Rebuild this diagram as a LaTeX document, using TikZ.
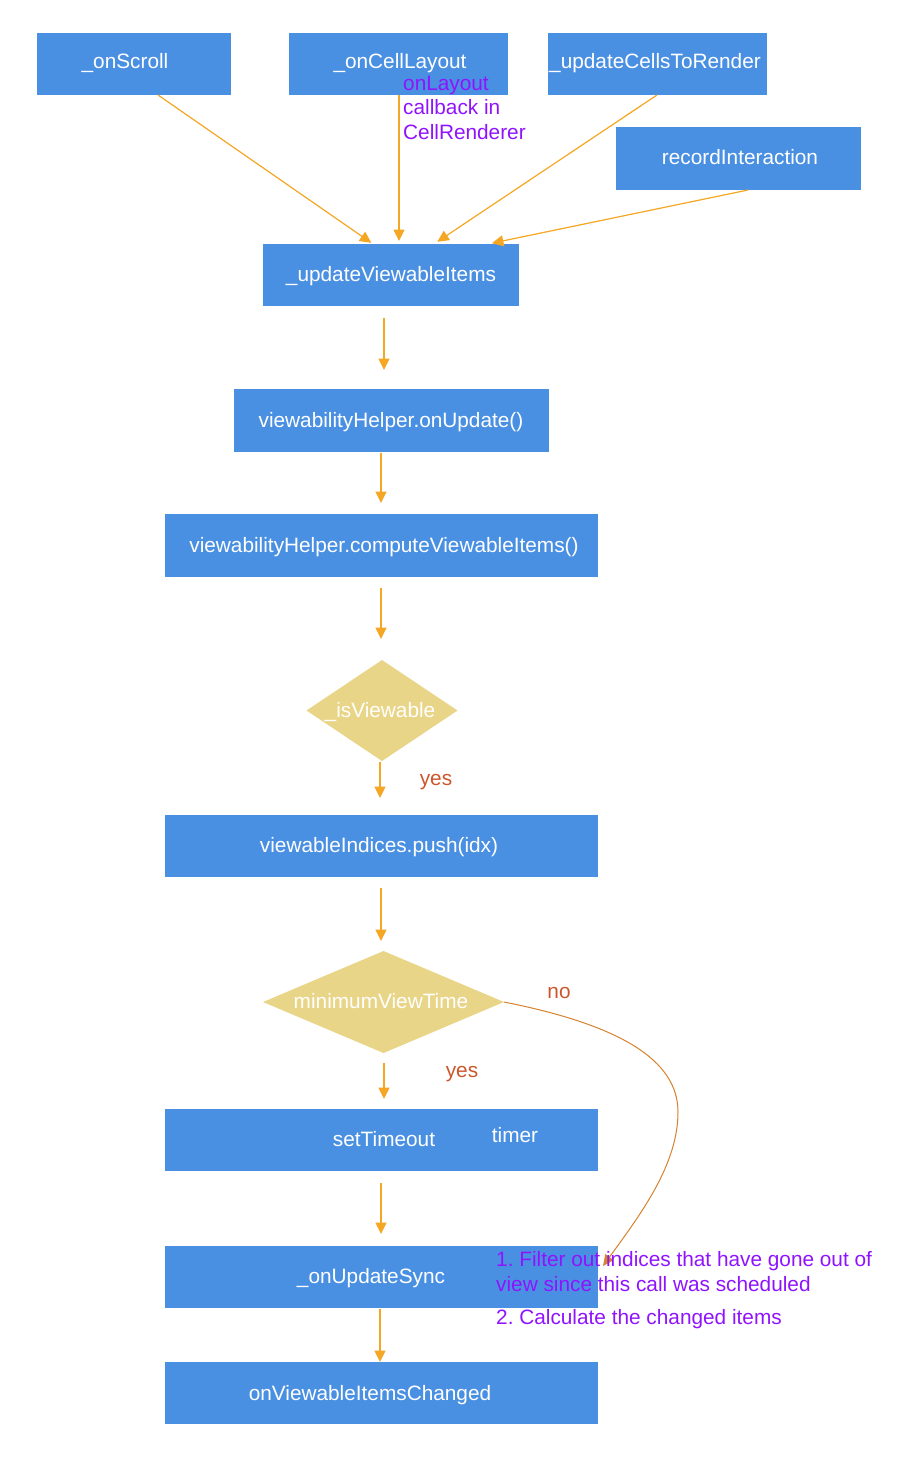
\documentclass[tikz,border=0pt]{standalone}
\usepackage{fontspec}
\setmainfont{Liberation Sans}
\frenchspacing
\usetikzlibrary{arrows.meta,shapes.geometric}
\definecolor{boxblue}{HTML}{4A90E2}
\definecolor{decision}{HTML}{E9D587}
\definecolor{flow}{HTML}{F5A623}
\definecolor{branch}{HTML}{D6822F}
\definecolor{answer}{HTML}{CD562C}
\definecolor{note}{HTML}{9013FE}
\begin{document}
\begin{tikzpicture}[x=1pt,y=-1pt,
  every node/.style={font=\fontsize{20.8}{25}\selectfont},
  box/.style={rectangle, fill=boxblue, draw=none, inner sep=0pt, outer sep=0pt},
  choice/.style={diamond, fill=decision, draw=none, inner sep=0pt, outer sep=0pt},
  boxtext/.style={text=white, anchor=base, inner sep=0pt},
  notetext/.style={text=note, anchor=base west, inner sep=0pt},
  answertext/.style={text=answer, anchor=base, inner sep=0pt},
  arr/.style={draw=flow, line width=1.2pt, -{Triangle[length=11.5pt,width=11pt]}},
  arrno/.style={draw=branch, line width=1pt, -{Triangle[length=11pt,width=10pt]}}]

\useasboundingbox (0,0) rectangle (910,1474);
\fill[white] (0,0) rectangle (910,1474);

% boxes
\node[box, minimum width=194pt, minimum height=62pt] (scroll)  at (134,64) {};
\node[box, minimum width=219pt, minimum height=62pt] (cell)    at (398.5,64) {};
\node[box, minimum width=219pt, minimum height=62pt] (render)  at (657.5,64) {};
\node[box, minimum width=245pt, minimum height=63pt] (record)  at (738.5,158.5) {};
\node[box, minimum width=256pt, minimum height=62pt] (uvi)     at (391,275) {};
\node[box, minimum width=315pt, minimum height=63pt] (onupd)   at (391.5,420.5) {};
\node[box, minimum width=433pt, minimum height=63pt] (comp)    at (381.5,545.5) {};
\node[choice, minimum width=151pt, minimum height=101pt] (isv) at (382,710.5) {};
\node[box, minimum width=433pt, minimum height=62pt] (push)    at (381.5,846) {};
\node[choice, minimum width=241pt, minimum height=102pt] (mvt) at (383.5,1002) {};
\node[box, minimum width=433pt, minimum height=62pt] (timeout) at (381.5,1140) {};
\node[box, minimum width=433pt, minimum height=62pt] (sync)    at (381.5,1277) {};
\node[box, minimum width=433pt, minimum height=62pt] (changed) at (381.5,1393) {};

% box labels
\node[boxtext] (tscroll)  at (125,69)   {\_onScroll};
\node[boxtext] (tcell)    at (400,69)   {\_onCellLayout};
\node[boxtext] (trender)  at (655,69)   {\_updateCellsToRender};
\node[boxtext] (trecord)  at (740,165)  {recordInteraction};
\node[boxtext] (tuvi)     at (391,281)  {\_updateViewableItems};
\node[boxtext] (tonupd)   at (391,427)  {viewabilityHelper.onUpdate()};
\node[boxtext] (tcomp)    at (384,552)  {viewabilityHelper.computeViewableItems()};
\node[boxtext] (tisv)     at (380,717)  {\_isViewable};
\node[boxtext] (tpush)    at (379,852)  {viewableIndices.push(idx)};
\node[boxtext] (tmvt)     at (381,1008) {minimumViewTime};
\node[boxtext] (ttimeout) at (384,1146) {setTimeout};
\node[boxtext] (ttimer)   at (515,1142) {timer};
\node[boxtext] (tsync)    at (371,1283) {\_onUpdateSync};
\node[boxtext] (tchanged) at (370,1400) {onViewableItemsChanged};

% callers of _updateViewableItems
\draw[arr, shorten >=2pt] ([xshift=24pt]scroll.south) -- ([xshift=-18pt]uvi.north);
\draw[arr, shorten >=3pt] ([xshift=0.5pt]cell.south) -- ([xshift=8pt]uvi.north);
\draw[arr, shorten >=4pt] ([xshift=-0.5pt]render.south) -- ([xshift=43pt]uvi.north);
\draw[arr, shorten >=4pt] ([xshift=9.5pt]record.south) -- ([xshift=97pt]uvi.north);

\node[notetext] (layoutnote1) at (403,91)  {onLayout};
\node[notetext] (layoutnote2) at (403,115) {callback in};
\node[notetext] (layoutnote3) at (403,140) {CellRenderer};

% main chain
\draw[arr, shorten <=12pt, shorten >=19pt] ([xshift=-7pt]uvi.south) -- ([xshift=-7.5pt]onupd.north);
\draw[arr, shorten <=1pt, shorten >=11pt] ([xshift=-10.5pt]onupd.south) -- ([xshift=-0.5pt]comp.north);
\draw[arr, shorten <=11pt, shorten >=21pt] ([xshift=-0.5pt]comp.south) -- ([xshift=-1pt]isv.north);
\draw[arr, shorten <=1pt, shorten >=17pt] ([xshift=-2pt]isv.south) -- ([xshift=-1.5pt]push.north);
\draw[arr, shorten <=11pt, shorten >=10pt] ([xshift=-0.5pt]push.south) -- ([xshift=-2.5pt]mvt.north);
\draw[arr, shorten <=10pt, shorten >=10pt] ([xshift=0.5pt]mvt.south) -- ([xshift=2.5pt]timeout.north);
\draw[arr, shorten <=12pt, shorten >=12pt] ([xshift=-0.5pt]timeout.south) -- ([xshift=-0.5pt]sync.north);
\draw[arr, shorten <=1pt] ([xshift=-1.5pt]sync.south) -- ([xshift=-1.5pt]changed.north);

\node[answertext] (yes1) at (436,785)  {yes};
\node[answertext] (yes2) at (462,1077) {yes};
\node[answertext] (no)   at (559,998)  {no};

% the "no" branch skips the timer
\coordinate (bend) at (678,1112);
\draw[arrno] (mvt.east) .. controls (620,1025) and (678,1060) .. (bend)
  .. controls (678,1165) and (640,1215) .. ([xshift=5pt,yshift=11pt]sync.east);

\node[notetext] (sync1) at (496,1266) {1. Filter out indices that have gone out of};
\node[notetext] (sync2) at (496,1291) {view since this call was scheduled};
\node[notetext] (sync3) at (496,1324) {2. Calculate the changed items};
\end{tikzpicture}
\end{document}
